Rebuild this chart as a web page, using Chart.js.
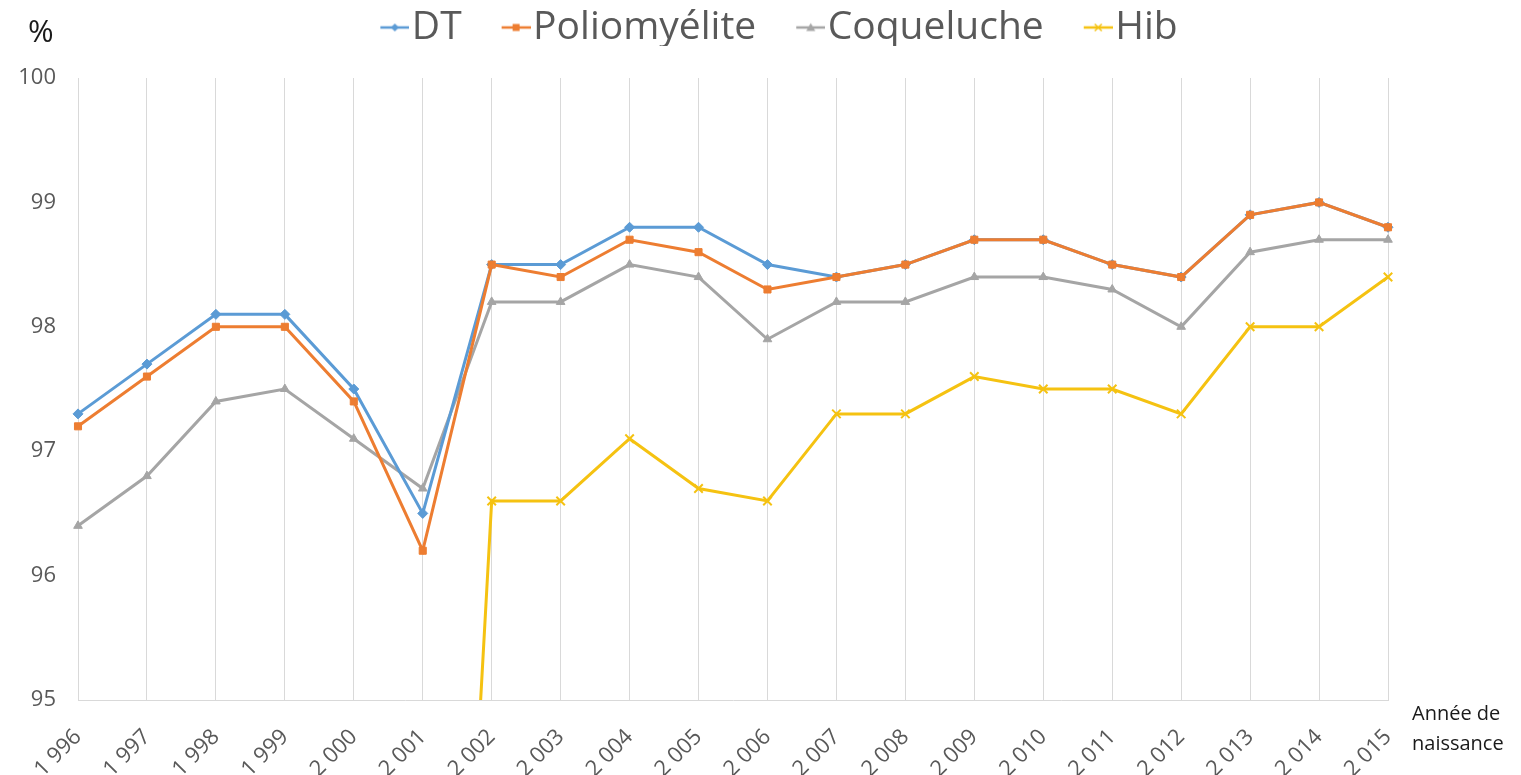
<!DOCTYPE html>
<html>
<head>
<meta charset="utf-8">
<script src="https://cdn.jsdelivr.net/npm/chart.js@4.4.1/dist/chart.umd.min.js"></script>
<style>
html,body{margin:0;padding:0;background:#fff;}
#wrap{width:1521px;height:775px;position:relative;}
</style>
</head>
<body>
<div id="wrap"><canvas id="c" width="1521" height="775"></canvas></div>
<script>
const categories = ['1 996','1 997','1 998','1 999','2 000','2 001','2 002','2 003','2 004','2 005','2 006','2 007','2 008','2 009','2 010','2 011','2 012','2 013','2 014','2 015'];
const dtValues = [97.3,97.7,98.1,98.1,97.5,96.5,98.5,98.5,98.8,98.8,98.5,98.4,98.5,98.7,98.7,98.5,98.4,98.9,99.0,98.8];
const polioValues = [97.2,97.6,98.0,98.0,97.4,96.2,98.5,98.4,98.7,98.6,98.3,98.4,98.5,98.7,98.7,98.5,98.4,98.9,99.0,98.8];
const coqValues = [96.4,96.8,97.4,97.5,97.1,96.7,98.2,98.2,98.5,98.4,97.9,98.2,98.2,98.4,98.4,98.3,98.0,98.6,98.7,98.7];
const hibValues = [null,null,null,null,null,86.6,96.6,96.6,97.1,96.7,96.6,97.3,97.3,97.6,97.5,97.5,97.3,98.0,98.0,98.4];
const yTicks = [95,96,97,98,99,100];
const seriesNames = ['DT','Poliomyélite','Coqueluche','Hib'];
const seriesColors = ['#5B9BD5','#ED7D31','#A5A5A5','#F5C211'];
const seriesMarkers = ['rectRot','rect','triangle','crossRot'];

const FONT = '"Open Sans", Lato, sans-serif';
const LEGEND_SIZE = 39;
const PW = 12;           // pointStyleWidth
const ICON_W = 29;       // visible icon width

function legendIcon(color, style){
  // Chart.js centres the image at x + PW/2; make the visible part span x .. x+ICON_W
  const half = ICON_W - PW/2;
  const c = document.createElement('canvas');
  c.width = Math.round(half*2); c.height = 16;
  const g = c.getContext('2d');
  const x0 = c.width - ICON_W;
  g.strokeStyle = color; g.fillStyle = color; g.lineWidth = 2.5;
  g.beginPath(); g.moveTo(x0,8); g.lineTo(c.width,8); g.stroke();
  const cx = x0 + ICON_W/2, cy = 8, r = 4;
  g.beginPath();
  if(style==='rectRot'){ g.moveTo(cx,cy-r); g.lineTo(cx+r,cy); g.lineTo(cx,cy+r); g.lineTo(cx-r,cy); g.closePath(); g.fill(); }
  else if(style==='rect'){ g.fillRect(cx-3.5,cy-3.5,7,7); }
  else if(style==='triangle'){ g.moveTo(cx,cy-4.5); g.lineTo(cx+4.5,cy+3.5); g.lineTo(cx-4.5,cy+3.5); g.closePath(); g.fill(); }
  else { g.lineWidth=1.5; g.moveTo(cx-3.5,cy-3.5); g.lineTo(cx+3.5,cy+3.5); g.moveTo(cx+3.5,cy-3.5); g.lineTo(cx-3.5,cy+3.5); g.stroke(); }
  return c;
}

const allValues = [dtValues, polioValues, coqValues, hibValues];
const datasets = allValues.map((vals,i)=>({
  label: seriesNames[i],
  data: vals,
  borderColor: seriesColors[i],
  backgroundColor: seriesColors[i],
  borderWidth: 3,
  pointStyle: seriesMarkers[i],
  pointRadius: seriesMarkers[i]==='crossRot' ? 6 : 5,
  pointBorderWidth: seriesMarkers[i]==='crossRot' ? 2 : 1,
  pointBackgroundColor: seriesColors[i],
  pointBorderColor: seriesColors[i],
  tension: 0,
  spanGaps: false
}));
datasets[0].order = 3; datasets[1].order = 2; datasets[2].order = 4; datasets[3].order = 1;

const textPlugin = {
  id: 'extraText',
  beforeUpdate(chart){
    const lg = chart.legend;
    if(lg && !lg._fixed){
      const f = lg.fit.bind(lg);
      lg.fit = function(){ f(); this.height = 78; };
      lg._fixed = true;
    }
  },
  afterLayout(chart){
    // centre the legend over the picture rather than the padded area, and raise it
    const lg = chart.legend;
    if(lg){ lg.left += 85; lg.right += 85; lg.top -= 32; lg.bottom -= 32; }
  },
  afterDraw(chart){
    const ctx = chart.ctx;
    ctx.save();
    ctx.fillStyle = '#1a1a1a';
    ctx.font = '31px ' + FONT;
    ctx.textBaseline = 'middle';
    ctx.textAlign = 'left';
    ctx.fillText('%', 28, 33);
    ctx.font = '20px ' + FONT;
    const xs = chart.scales.x;
    ctx.fillText('Année de', xs.right + 24, 714);
    ctx.fillText('naissance', xs.right + 24, 744);
    ctx.restore();
  }
};

new Chart(document.getElementById('c'), {
  type: 'line',
  data: { labels: categories, datasets },
  plugins: [textPlugin],
  options: {
    responsive: false,
    animation: false,
    layout: { padding: { left: 0, right: 133, top: 0, bottom: 0 } },
    plugins: {
      legend: {
        position: 'top',
        align: 'center',
        labels: {
          usePointStyle: true,
          pointStyleWidth: PW,
          padding: 40,
          color: '#595959',
          font: { family: FONT, size: LEGEND_SIZE },
          generateLabels(chart){
            return seriesNames.map((n,i)=>({
              text: n,
              fontColor: '#595959',
              pointStyle: legendIcon(seriesColors[i], seriesMarkers[i]),
              datasetIndex: i,
              hidden: false,
              lineWidth: 0,
              strokeStyle: seriesColors[i],
              fillStyle: seriesColors[i]
            }));
          }
        }
      },
      tooltip: { enabled: false }
    },
    scales: {
      x: {
        offset: false,
        grid: { display: true, color: '#d9d9d9', lineWidth: 1, drawTicks: false },
        border: { display: true, color: '#d9d9d9', width: 1 },
        ticks: {
          color: '#595959',
          font: { family: FONT, size: 22 },
          maxRotation: 45, minRotation: 45,
          padding: 24,
          autoSkip: false
        },
        afterFit(scale){ scale.height = 75; }
      },
      y: {
        min: 95, max: 100,
        afterBuildTicks(scale){ scale.ticks = yTicks.map(v=>({value:v})); },
        grid: { display: false, drawTicks: false },
        border: { display: false },
        ticks: {
          color: '#595959',
          font: { family: FONT, size: 22 },
          padding: 22
        },
        afterFit(scale){ scale.width = 78; }
      }
    }
  }
});
</script>
</body>
</html>
